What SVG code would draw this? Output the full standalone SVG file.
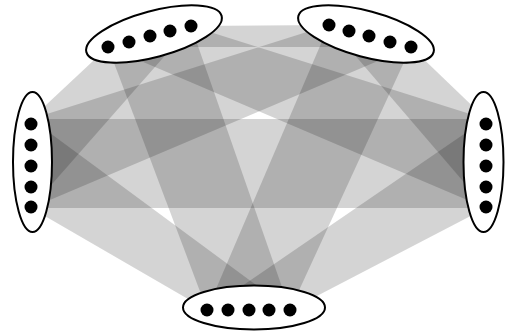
<svg xmlns="http://www.w3.org/2000/svg" width="507" height="331" viewBox="0 0 507 331">
<style>
.band{fill:#000;fill-opacity:0.17;stroke:none}
.grp{fill:#fff;stroke:#000;stroke-width:2}
.dot{fill:#000}
</style>
<rect width="507" height="331" fill="#fff"/>
<g id="connectors">
<polygon class="band" points="108,47 191,26 329,25 411,47"/>
<polygon class="band" points="31,119 108,47 191,26 31,208"/>
<polygon class="band" points="108,47 191,26 486,119 486,208"/>
<polygon class="band" points="108,47 191,26 290,310 207,310"/>
<polygon class="band" points="31,119 329,25 411,47 31,208"/>
<polygon class="band" points="329,25 411,47 486,119 486,208"/>
<polygon class="band" points="329,25 411,47 290,310 207,310"/>
<polygon class="band" points="31,119 486,119 486,208 31,208"/>
<polygon class="band" points="31,119 290,310 207,310 31,208"/>
<polygon class="band" points="486,119 486,208 290,310 207,310"/>
</g>
<g id="group-top-left">
<ellipse class="grp" cx="154" cy="34" rx="70" ry="23" transform="rotate(-15 154 34)"/>
<circle class="dot" cx="108" cy="47" r="6.5"/>
<circle class="dot" cx="129" cy="42" r="6.5"/>
<circle class="dot" cx="150" cy="36" r="6.5"/>
<circle class="dot" cx="170" cy="31" r="6.5"/>
<circle class="dot" cx="191" cy="26" r="6.5"/>
</g>
<g id="group-top-right">
<ellipse class="grp" cx="366" cy="34" rx="70" ry="23" transform="rotate(15 366 34)"/>
<circle class="dot" cx="329" cy="25" r="6.5"/>
<circle class="dot" cx="349" cy="31" r="6.5"/>
<circle class="dot" cx="369" cy="36" r="6.5"/>
<circle class="dot" cx="390" cy="42" r="6.5"/>
<circle class="dot" cx="411" cy="47" r="6.5"/>
</g>
<g id="group-left">
<ellipse class="grp" cx="32.5" cy="162" rx="19.5" ry="70"/>
<circle class="dot" cx="31" cy="124" r="6.5"/>
<circle class="dot" cx="31" cy="145" r="6.5"/>
<circle class="dot" cx="31" cy="166" r="6.5"/>
<circle class="dot" cx="31" cy="187" r="6.5"/>
<circle class="dot" cx="31" cy="207" r="6.5"/>
</g>
<g id="group-right">
<ellipse class="grp" cx="483.5" cy="162" rx="20" ry="70"/>
<circle class="dot" cx="486" cy="124" r="6.5"/>
<circle class="dot" cx="486" cy="145" r="6.5"/>
<circle class="dot" cx="486" cy="166" r="6.5"/>
<circle class="dot" cx="486" cy="187" r="6.5"/>
<circle class="dot" cx="486" cy="207" r="6.5"/>
</g>
<g id="group-bottom">
<ellipse class="grp" cx="254" cy="307.5" rx="71" ry="22"/>
<circle class="dot" cx="207" cy="310" r="6.5"/>
<circle class="dot" cx="228" cy="310" r="6.5"/>
<circle class="dot" cx="249" cy="310" r="6.5"/>
<circle class="dot" cx="269" cy="310" r="6.5"/>
<circle class="dot" cx="290" cy="310" r="6.5"/>
</g>
</svg>
